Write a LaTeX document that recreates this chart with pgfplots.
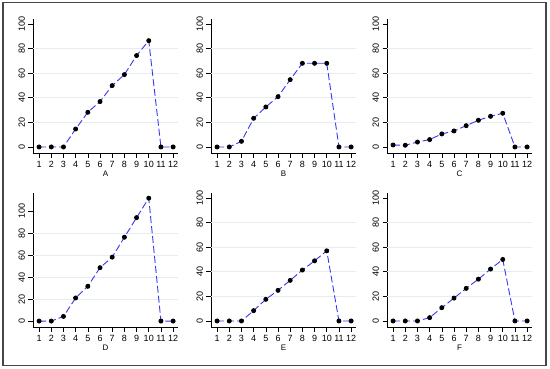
\documentclass[border=0pt]{standalone}
\usepackage{pgfplots}
\pgfplotsset{compat=1.18}
\usepackage{fontspec}
\setmainfont{Liberation Sans}
\definecolor{linecol}{RGB}{55,55,245}
\definecolor{gridcol}{RGB}{228,238,240}
\definecolor{framecol}{RGB}{70,70,70}
\pgfplotsset{
  panel/.style={
    scale only axis, width=145pt, height=134pt,
    xmin=0.5, xmax=12.4, ymin=-4.9, ymax=104,
    axis x line*=bottom, axis y line*=left,
    axis line style={black, line width=0.8pt, -},
    xtick={1,...,12}, ytick={0,20,...,100},
    extra y ticks={20,40,60,80}, extra y tick labels={},
    extra y tick style={ymajorgrids=true, major tick length=0pt, grid style={gridcol, line width=0.9pt}},
    tick align=outside, major tick length=4.5pt,
    tick style={black, line width=0.6pt},
    yticklabel style={rotate=90, anchor=south, font=\fontsize{9}{10}\selectfont},
    xticklabel style={font=\fontsize{9}{10}\selectfont},
    /pgf/number format/assume math mode=true,
    xlabel style={font=\fontsize{8}{9}\selectfont, yshift=3pt},
    clip=false,
  },
  ser/.style={linecol, line width=0.9pt, dash pattern=on 7pt off 3pt,
    mark=*, mark size=2pt, mark options={solid, fill=black, draw=black}},
}
\begin{document}
\begin{tikzpicture}[x=1pt,y=1pt]
\path (0,0) rectangle (550,368);
\draw[framecol, line width=1.3pt] (3,2.5) rectangle (546,365.5);
% A
\begin{axis}[panel, at={(33pt,215pt)}, anchor=south west, xlabel={A}]
\addplot[ser] coordinates {(1,0)(2,0)(3,0)(4,14.6)(5,28.2)(6,36.9)(7,49.9)(8,58.8)(9,74.3)(10,86.4)(11,0)(12,0)};
\end{axis}
% B
\begin{axis}[panel, at={(211pt,215pt)}, anchor=south west, xlabel={B}]
\addplot[ser] coordinates {(1,0)(2,0)(3,4.6)(4,23.3)(5,32.5)(6,40.9)(7,54.7)(8,68)(9,68)(10,68)(11,0)(12,0)};
\end{axis}
% C
\begin{axis}[panel, at={(387pt,215pt)}, anchor=south west, xlabel={C}]
\addplot[ser] coordinates {(1,1.6)(2,1.4)(3,4)(4,6)(5,10.6)(6,13)(7,17.3)(8,21.7)(9,24.9)(10,27.4)(11,0)(12,0)};
\end{axis}
% D
\begin{axis}[panel, at={(33pt,41pt)}, anchor=south west, xlabel={D}, ymin=-5.4, ymax=116.4]
\addplot[ser] coordinates {(1,0)(2,0)(3,4.2)(4,21)(5,31.6)(6,48.5)(7,58.1)(8,76.2)(9,94)(10,111.7)(11,0)(12,0)};
\end{axis}
% E
\begin{axis}[panel, at={(211pt,41pt)}, anchor=south west, xlabel={E}]
\addplot[ser] coordinates {(1,0)(2,0)(3,0)(4,8.4)(5,17.6)(6,24.9)(7,33)(8,41.4)(9,48.9)(10,57)(11,0)(12,0)};
\end{axis}
% F
\begin{axis}[panel, at={(387pt,41pt)}, anchor=south west, xlabel={F}]
\addplot[ser] coordinates {(1,0)(2,0)(3,0)(4,2.7)(5,10.8)(6,18.6)(7,26.5)(8,34)(9,42.2)(10,50)(11,0)(12,0)};
\end{axis}
\end{tikzpicture}
\end{document}
